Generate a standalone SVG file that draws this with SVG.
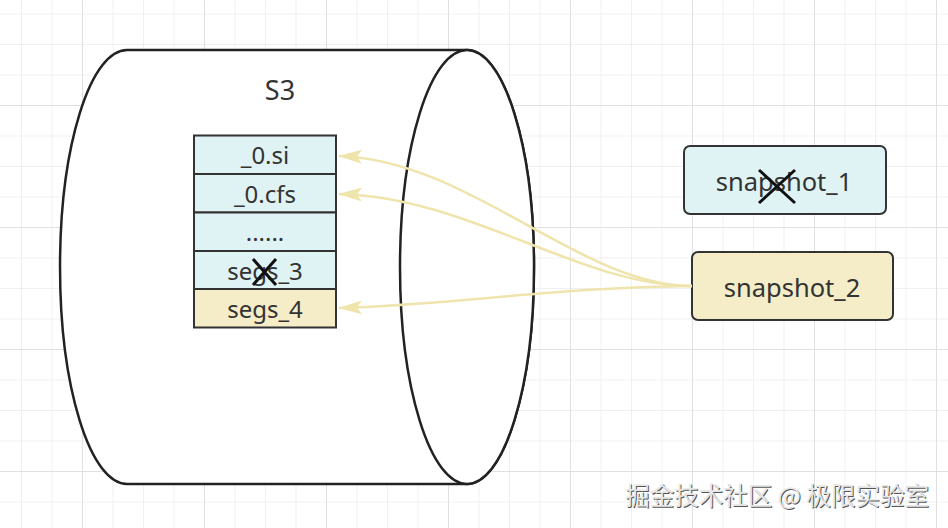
<svg xmlns="http://www.w3.org/2000/svg" width="948" height="528" viewBox="0 0 948 528">
<defs>
<pattern id="minor" x="21" y="13.5" width="30.5" height="30.5" patternUnits="userSpaceOnUse">
<path d="M0 0V30.5M0 0H30.5" fill="none" stroke="#ebebeb" stroke-width="1.5"/>
</pattern>
<pattern id="major" x="82" y="105" width="122" height="122" patternUnits="userSpaceOnUse">
<path d="M0 0V122M0 0H122" fill="none" stroke="#e0e0e0" stroke-width="2"/>
</pattern>
<marker id="ah" viewBox="0 0 24 14" refX="23" refY="7" markerWidth="24" markerHeight="14" markerUnits="userSpaceOnUse" orient="auto">
<path d="M24 7L0 0L5 7L0 14Z" fill="#f0e4ad"/>
</marker>
<style>
.t{font-family:"Noto Sans","Open Sans","Liberation Sans",sans-serif;fill:#333;text-anchor:middle}
.cell{stroke:#333;stroke-width:2}
.cy{fill:#dff2f4}
.ye{fill:#f5ecc8}
.x{stroke:#111;stroke-width:3;fill:none}
.conn{fill:none;stroke:#f0e4ad;stroke-width:2.5}
</style>
</defs>
<rect width="948" height="528" fill="#fff"/>
<rect width="948" height="528" fill="url(#minor)"/>
<rect width="948" height="528" fill="url(#major)"/>

<g id="s3">
<path d="M127 50H467A67 217 0 0 1 467 484H127A67 217 0 0 1 127 50Z" fill="#fff" stroke="#222" stroke-width="2.5"/>
<ellipse cx="467" cy="267" rx="67" ry="217" fill="#fff" stroke="#222" stroke-width="2.5"/>
<text class="t" x="280" y="100" font-size="27">S3</text>
</g>

<g id="row-0si">
<rect class="cell cy" x="194" y="135.5" width="142" height="38.5"/>
<text class="t" x="265" y="164" font-size="24">_0.si</text>
</g>
<g id="row-0cfs">
<rect class="cell cy" x="194" y="174" width="142" height="38.5"/>
<text class="t" x="265" y="202.5" font-size="24">_0.cfs</text>
</g>
<g id="row-dots">
<rect class="cell cy" x="194" y="212.5" width="142" height="38.5"/>
<text class="t" x="265" y="241" font-size="24">......</text>
</g>
<g id="row-segs3">
<rect class="cell cy" x="194" y="251" width="142" height="38"/>
<text class="t" x="265" y="280" font-size="24">segs_3</text>
<path class="x" d="M253 259L276 285M276 259L253 285"/>
</g>
<g id="row-segs4">
<rect class="cell ye" x="194" y="289" width="142" height="38.5"/>
<text class="t" x="265" y="318" font-size="24">segs_4</text>
</g>

<g id="snapshot_1">
<rect class="cy" x="684" y="146" width="202" height="68" rx="6" stroke="#333" stroke-width="2"/>
<text class="t" x="784" y="191" font-size="25.5">snapshot_1</text>
<path class="x" d="M759 170L795 203M795 170L759 203"/>
</g>
<g id="snapshot_2">
<rect class="ye" x="692" y="252" width="201" height="68" rx="6" stroke="#333" stroke-width="2"/>
<text class="t" x="792" y="297" font-size="25.5">snapshot_2</text>
</g>

<g id="connectors">
<path class="conn" d="M692 286C580 286 470 160 339 156" marker-end="url(#ah)"/>
<path class="conn" d="M692 286C580 286 470 197 339 194" marker-end="url(#ah)"/>
<path class="conn" d="M692 286C560 287 450 305 339 308" marker-end="url(#ah)"/>
</g>

<g id="watermark" font-family="'Noto Sans CJK SC',sans-serif" font-size="24.5" text-anchor="end">
<text x="930" y="506" fill="#555">掘金技术社区 @ 极限实验室</text>
<text x="929" y="505" fill="#e6e6e6">掘金技术社区 @ 极限实验室</text>
</g>
</svg>
